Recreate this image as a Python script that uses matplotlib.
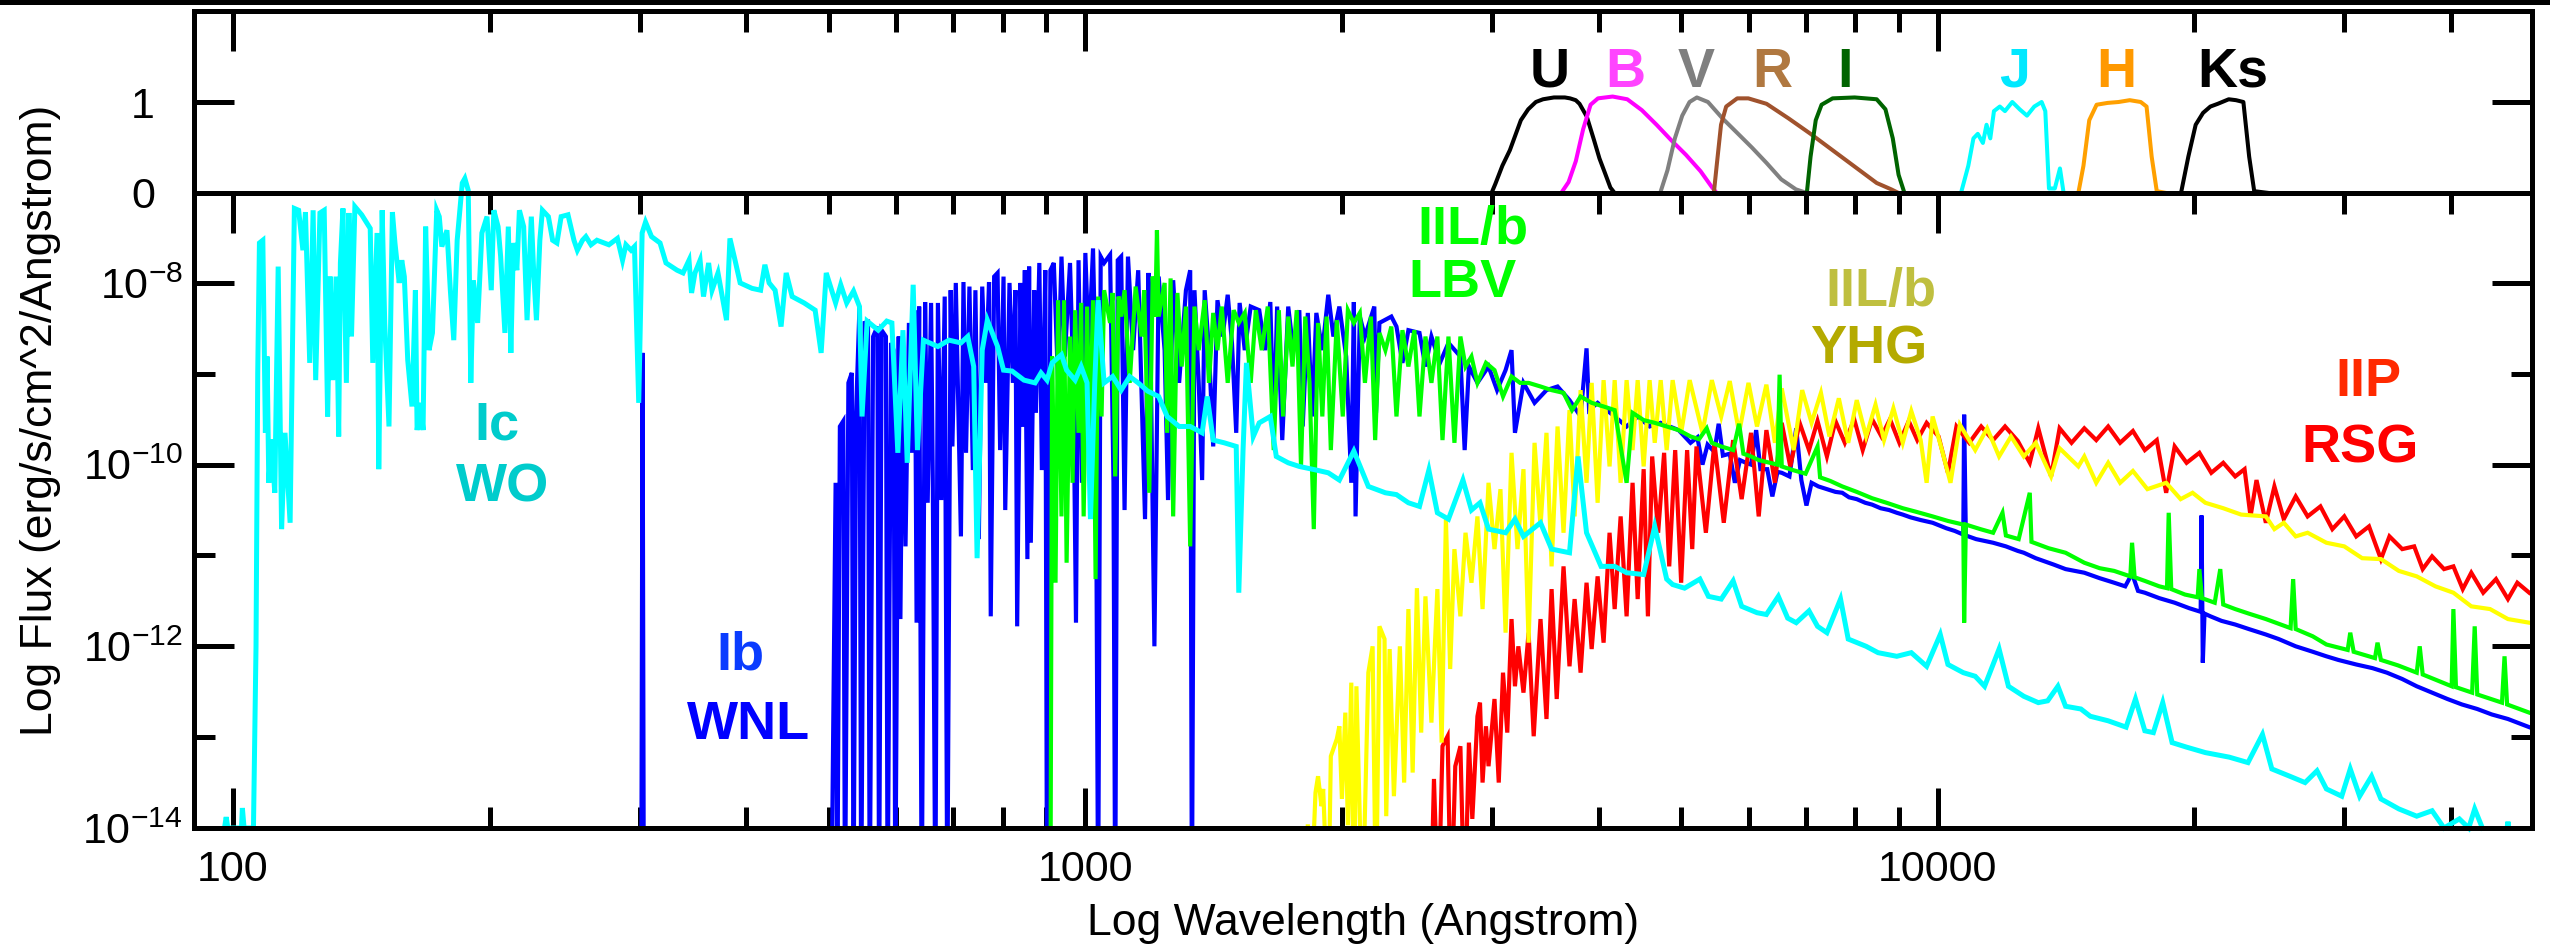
import numpy as np
import matplotlib
matplotlib.use('Agg')
import matplotlib.pyplot as plt
from matplotlib.patches import Rectangle
from matplotlib.ticker import FixedLocator, FixedFormatter, NullFormatter

plt.rcParams['font.family'] = ['Liberation Sans', 'DejaVu Sans']
plt.rcParams['mathtext.fontset'] = 'custom'
plt.rcParams['mathtext.rm'] = 'Liberation Sans'
plt.rcParams['mathtext.it'] = 'Liberation Sans:italic'
plt.rcParams['mathtext.bf'] = 'Liberation Sans:bold'

# ---- filter transmission curves (Angstrom, relative) ----
u_wl = [2996, 3027, 3085, 3148, 3243, 3308, 3377, 3443, 3546, 3652, 3704, 3761, 3800, 3875, 3952, 4010, 4070, 4130, 4178]
u_tr = [0, 0.1, 0.3, 0.47, 0.8, 0.92, 1.0, 1.03, 1.05, 1.05, 1.04, 1.02, 0.98, 0.84, 0.58, 0.38, 0.22, 0.06, 0]
b_wl = [3616, 3689, 3762, 3837, 3915, 3994, 4155, 4323, 4497, 4679, 4868, 5065, 5269, 5428, 5504]
b_tr = [0, 0.12, 0.35, 0.7, 0.97, 1.04, 1.06, 1.03, 0.91, 0.75, 0.58, 0.42, 0.24, 0.07, 0]
v_wl = [4725, 4819, 4916, 5015, 5115, 5217, 5376, 5591, 5818, 6053, 6298, 6553, 6818, 7022]
v_tr = [0, 0.25, 0.6, 0.85, 1.0, 1.05, 1.0, 0.82, 0.66, 0.5, 0.33, 0.15, 0.04, 0]
r_wl = [5462, 5504, 5569, 5647, 5818, 5995, 6298, 6683, 7093, 7528, 7990, 8480, 8821, 8997]
r_tr = [0, 0.3, 0.75, 0.95, 1.04, 1.04, 0.98, 0.82, 0.65, 0.47, 0.29, 0.11, 0.04, 0]
i_wl = [7022, 7093, 7193, 7307, 7528, 7990, 8480, 8683, 8857, 8997, 9141]
i_tr = [0, 0.4, 0.8, 0.97, 1.04, 1.05, 1.03, 0.92, 0.6, 0.2, 0]
j_wl = [10649, 10862, 11013, 11143, 11298, 11410, 11526, 11641, 11827, 11992, 12232, 12477,
        12727, 12981, 13241, 13373, 13506, 13722, 13913, 14052, 14191]
j_tr = [0, 0.3, 0.6, 0.65, 0.55, 0.75, 0.6, 0.9, 0.95, 0.9, 1.0, 0.92, 0.85, 0.95, 1.0, 0.9,
        0.05, 0.05, 0.27, 0, 0]
h_wl = [14621, 14825, 15059, 15361, 15824, 16301, 16799, 17306, 17580, 17824, 18072, 18545]
h_tr = [0, 0.3, 0.8, 0.97, 0.99, 1.0, 1.02, 1.0, 0.95, 0.4, 0.02, 0]
k_wl = [19295, 19681, 20075, 20477, 20887, 21309, 21950, 22387, 22836, 23195, 23514, 24470]
k_tr = [0, 0.4, 0.75, 0.88, 0.95, 0.98, 1.03, 1.02, 1.0, 0.4, 0.02, 0]

filter_names = ['U', 'B', 'V', 'R', 'I', 'J', 'H', 'Ks']
filter_label_wl = [3510, 4296, 5212, 6400, 7780, 12300, 16210, 22180]

# ---- spectra: (log10 wavelength [A], log10 flux [erg/s/cm^2/A]) ----
# WO star (type Ic progenitor)
wo_pts = [
    (1.990, -14.0), (1.992, -13.88), (1.994, -14.0), (2.010, -14.0), (2.011, -13.78), (2.013, -14.0),
    (2.024, -14.0), (2.027, -12.0), (2.029, -9.0),
    (2.031, -7.56), (2.035, -7.53), (2.038, -9.65), (2.040, -8.81), (2.042, -10.20), (2.045, -9.72),
    (2.049, -10.31), (2.053, -7.82), (2.057, -10.71), (2.061, -9.65), (2.067, -10.64), (2.072, -7.18),
    (2.077, -7.20), (2.082, -7.64), (2.085, -7.22), (2.090, -8.88), (2.094, -7.20), (2.097, -9.07),
    (2.102, -7.23), (2.107, -7.20), (2.111, -9.47), (2.114, -7.93), (2.117, -9.07), (2.121, -7.93),
    (2.124, -9.69), (2.126, -7.78), (2.129, -7.18), (2.133, -9.10), (2.136, -7.23), (2.139, -8.59),
    (2.143, -7.16), (2.151, -7.25), (2.161, -7.40), (2.164, -8.88), (2.169, -7.45), (2.171, -10.05),
    (2.175, -7.20), (2.178, -8.44), (2.183, -9.58), (2.187, -7.22), (2.190, -7.56), (2.195, -8.00),
    (2.198, -7.75), (2.201, -7.93), (2.205, -8.85), (2.210, -9.36), (2.214, -8.08), (2.216, -9.62),
    (2.220, -9.32), (2.223, -9.62), (2.226, -7.38), (2.230, -8.74), (2.234, -8.55), (2.239, -7.20),
    (2.242, -7.27), (2.245, -7.60), (2.251, -7.42), (2.255, -8.08), (2.259, -8.63), (2.263, -7.53),
    (2.269, -6.90), (2.272, -6.85), (2.276, -6.98), (2.279, -9.10), (2.282, -7.97), (2.287, -8.44),
    (2.292, -7.45), (2.298, -7.27), (2.303, -8.08), (2.306, -7.20), (2.311, -7.38), (2.314, -7.71),
    (2.319, -8.55), (2.323, -7.38), (2.326, -8.77), (2.329, -7.56), (2.333, -7.86), (2.336, -7.20),
    (2.341, -7.38), (2.345, -8.41), (2.350, -7.27), (2.353, -7.93), (2.356, -8.41), (2.360, -7.53),
    (2.363, -7.20), (2.370, -7.27), (2.375, -7.53), (2.380, -7.56), (2.385, -7.27), (2.393, -7.25),
    (2.400, -7.53), (2.404, -7.64), (2.410, -7.53), (2.414, -7.49), (2.420, -7.58), (2.427, -7.53),
    (2.441, -7.58), (2.451, -7.51), (2.457, -7.75), (2.461, -7.58), (2.467, -7.64), (2.471, -7.60),
    (2.476, -9.32), (2.480, -7.45), (2.484, -7.33), (2.491, -7.49), (2.501, -7.56), (2.508, -7.78),
    (2.521, -7.86), (2.528, -7.89), (2.535, -7.75), (2.538, -8.11), (2.542, -7.89), (2.548, -7.75),
    (2.552, -8.15), (2.558, -7.78), (2.562, -8.08), (2.569, -7.89), (2.579, -8.41), (2.583, -7.51),
    (2.589, -7.75), (2.595, -8.00), (2.609, -8.06), (2.619, -8.08), (2.624, -7.80), (2.629, -8.00),
    (2.636, -8.08), (2.643, -8.48), (2.649, -7.89), (2.656, -8.15), (2.670, -8.22), (2.683, -8.30),
    (2.690, -8.77), (2.696, -7.89), (2.707, -8.22), (2.713, -8.02), (2.720, -8.22), (2.728, -8.09),
    (2.735, -8.26), (2.738, -9.47), (2.744, -8.42), (2.757, -8.52), (2.767, -8.42),
    (2.773, -8.44), (2.780, -9.87), (2.786, -8.52), (2.791, -9.98), (2.798, -8.02), (2.803, -9.84),
    (2.810, -8.63), (2.827, -8.70), (2.840, -8.63), (2.854, -8.66), (2.862, -8.59), (2.869, -8.92),
    (2.873, -11.03), (2.879, -8.74), (2.885, -8.41), (2.897, -8.70), (2.904, -8.96), (2.914, -8.97),
    (2.928, -9.07), (2.941, -9.10), (2.948, -8.99), (2.955, -9.07), (2.961, -8.88), (2.972, -8.79),
    (2.978, -8.96), (2.988, -9.07), (2.995, -8.92), (3.002, -9.10), (3.006, -10.60), (3.011, -9.10),
    (3.015, -8.19), (3.022, -9.10), (3.032, -9.03), (3.042, -9.18), (3.052, -9.03), (3.062, -9.10),
    (3.073, -9.19), (3.086, -9.25), (3.096, -9.47), (3.110, -9.58), (3.123, -9.58), (3.137, -9.65),
    (3.143, -9.25), (3.150, -9.73), (3.163, -9.76), (3.177, -9.80), (3.180, -11.41), (3.185, -9.84),
    (3.189, -8.88), (3.197, -9.69), (3.204, -9.54), (3.217, -9.47), (3.224, -9.91), (3.238, -9.98),
    (3.251, -10.02), (3.271, -10.06), (3.285, -10.09), (3.298, -10.17), (3.315, -9.85), (3.332, -10.24),
    (3.352, -10.31), (3.365, -10.33), (3.379, -10.42), (3.392, -10.46), (3.403, -10.06), (3.413, -10.53),
    (3.426, -10.60), (3.443, -10.17), (3.453, -10.50), (3.463, -10.42), (3.473, -10.71), (3.493, -10.75),
    (3.504, -10.60), (3.514, -10.79), (3.534, -10.64), (3.547, -10.93), (3.568, -10.97), (3.578, -9.91),
    (3.588, -10.75), (3.605, -11.12), (3.621, -11.12), (3.635, -11.19), (3.655, -11.21), (3.668, -10.68),
    (3.682, -11.26), (3.689, -11.32), (3.703, -11.36), (3.721, -11.26), (3.731, -11.45), (3.746, -11.48),
    (3.760, -11.28), (3.770, -11.56), (3.788, -11.63), (3.799, -11.65), (3.813, -11.45), (3.824, -11.69),
    (3.834, -11.74), (3.849, -11.61), (3.859, -11.78), (3.870, -11.85), (3.886, -11.48), (3.895, -11.92),
    (3.916, -12.00), (3.930, -12.07), (3.952, -12.11), (3.969, -12.07), (3.987, -12.22), (4.003, -11.87),
    (4.012, -12.20), (4.030, -12.29), (4.044, -12.33), (4.055, -12.44), (4.072, -12.03), (4.083, -12.44),
    (4.101, -12.55), (4.118, -12.62), (4.129, -12.60), (4.141, -12.44), (4.150, -12.66), (4.168, -12.69),
    (4.179, -12.77), (4.200, -12.82), (4.221, -12.89), (4.232, -12.58), (4.243, -12.93), (4.253, -12.95),
    (4.264, -12.62), (4.275, -13.06), (4.292, -13.11), (4.314, -13.17), (4.342, -13.22), (4.364, -13.28),
    (4.381, -12.97), (4.392, -13.35), (4.413, -13.43), (4.431, -13.50), (4.445, -13.37), (4.456, -13.57),
    (4.474, -13.65), (4.484, -13.35), (4.495, -13.65), (4.509, -13.43), (4.520, -13.68), (4.541, -13.79),
    (4.562, -13.87), (4.580, -13.81), (4.594, -14.0), (4.612, -13.90), (4.623, -14.0), (4.630, -13.79),
    (4.639, -14.0), (4.650, np.nan), (4.668, -14.0), (4.669, -13.93), (4.670, -14.0),
]

# WNL star (type Ib progenitor)
wnl_pts = [
    (2.470, -15), (2.479, -15), (2.4805, -8.77), (2.482, -15), (2.700, -15),
    (2.702, -15), (2.707, -10.20), (2.709, -15), (2.712, -9.58), (2.716, -9.52), (2.718, -15),
    (2.722, -9.10), (2.726, -8.99), (2.728, -15), (2.731, -9.43), (2.735, -8.26), (2.737, -15),
    (2.741, -8.44), (2.745, -8.43), (2.747, -15), (2.751, -8.59), (2.756, -8.48), (2.758, -15),
    (2.761, -8.52), (2.766, -8.59), (2.768, -15), (2.772, -8.66), (2.775, -8.74), (2.777, -15),
    (2.781, -8.59), (2.783, -11.70), (2.786, -8.59), (2.789, -10.90), (2.793, -8.44), (2.796, -9.87),
    (2.800, -8.30), (2.802, -11.74), (2.805, -8.26), (2.808, -15), (2.812, -8.21), (2.815, -10.42),
    (2.819, -8.22), (2.821, -10.17), (2.824, -15), (2.827, -8.22), (2.831, -10.39), (2.835, -8.15),
    (2.838, -15), (2.842, -8.08), (2.844, -9.80), (2.848, -8.00), (2.854, -10.79), (2.857, -7.99),
    (2.860, -9.87), (2.864, -8.04), (2.868, -10.06), (2.871, -8.08), (2.875, -10.82), (2.879, -8.04),
    (2.883, -9.10), (2.887, -7.99), (2.889, -11.67), (2.893, -7.93), (2.897, -7.89), (2.900, -9.84),
    (2.904, -7.93), (2.906, -10.50), (2.911, -8.00), (2.915, -9.10), (2.918, -8.08), (2.920, -11.78),
    (2.924, -8.00), (2.926, -9.58), (2.929, -7.86), (2.932, -11.04), (2.934, -7.82), (2.936, -10.86),
    (2.940, -8.08), (2.942, -9.43), (2.946, -7.78), (2.949, -10.06), (2.953, -7.86), (2.955, -15),
    (2.959, -7.86), (2.963, -7.78), (2.968, -9.10), (2.972, -7.71), (2.976, -8.81), (2.982, -7.78),
    (2.986, -9.10), (2.989, -11.74), (2.992, -7.75), (2.996, -10.20), (3.000, -7.67), (3.004, -8.74),
    (3.009, -7.62), (3.012, -8.92), (3.015, -15), (3.018, -7.71), (3.022, -7.78), (3.029, -7.69),
    (3.033, -10.20), (3.035, -15), (3.038, -7.75), (3.042, -7.71), (3.046, -10.50), (3.050, -7.71),
    (3.056, -8.74), (3.062, -7.86), (3.070, -10.60), (3.074, -7.89), (3.077, -9.10), (3.081, -12.00),
    (3.086, -7.93), (3.093, -8.74), (3.097, -10.39), (3.103, -7.97), (3.110, -9.10), (3.118, -8.08),
    (3.123, -7.86), (3.125, -15), (3.128, -8.08), (3.133, -9.10), (3.137, -10.17), (3.140, -8.08),
    (3.145, -8.74), (3.150, -9.80), (3.155, -8.19), (3.161, -8.59), (3.167, -8.13), (3.172, -8.66),
    (3.177, -9.65), (3.181, -8.22), (3.187, -8.74), (3.194, -8.26), (3.204, -8.30), (3.211, -8.74),
    (3.217, -8.21), (3.221, -9.65), (3.225, -8.26), (3.231, -9.73), (3.238, -8.26), (3.244, -8.74),
    (3.251, -8.30), (3.255, -9.58), (3.261, -8.33), (3.266, -9.47), (3.271, -8.33), (3.278, -8.74),
    (3.285, -8.13), (3.291, -8.59), (3.298, -8.26), (3.306, -8.81), (3.312, -10.20), (3.315, -8.21),
    (3.317, -10.57), (3.322, -8.37), (3.328, -8.59), (3.339, -8.26), (3.341, -9.43), (3.345, -8.44),
    (3.359, -8.37), (3.365, -8.48), (3.372, -8.88), (3.379, -8.52), (3.392, -8.55), (3.399, -8.92),
    (3.406, -8.59), (3.416, -8.88), (3.426, -8.66), (3.440, -8.81), (3.445, -9.84), (3.450, -8.92),
    (3.460, -9.10), (3.473, -8.92), (3.483, -9.18), (3.493, -8.96), (3.500, -8.74), (3.504, -9.65),
    (3.514, -9.10), (3.527, -9.32), (3.541, -9.18), (3.554, -9.14), (3.568, -9.29), (3.581, -9.47),
    (3.588, -8.72), (3.591, -9.40), (3.601, -9.32), (3.621, -9.47), (3.635, -9.58), (3.648, -9.47),
    (3.662, -9.58), (3.675, -9.54), (3.696, -9.62),
    (3.710, -9.76), (3.718, -9.70), (3.724, -10.00), (3.730, -9.78), (3.738, -9.86), (3.743, -9.55),
    (3.748, -9.90), (3.756, -9.88), (3.762, -10.20), (3.768, -9.95), (3.775, -9.98), (3.781, -10.00),
    (3.787, -9.62), (3.792, -10.05), (3.800, -10.05), (3.806, -10.35), (3.812, -10.08), (3.817, -10.09),
    (3.826, -10.13), (3.834, -9.60), (3.840, -10.17), (3.846, -10.45), (3.852, -10.20), (3.860, -10.24),
    (3.870, -10.27), (3.880, -10.30), (3.888, -10.31), (3.896, -10.36), (3.905, -10.38), (3.915, -10.42),
    (3.923, -10.44), (3.933, -10.48), (3.943, -10.50), (3.952, -10.53), (3.959, -10.55), (3.968, -10.58),
    (3.980, -10.61), (3.994, -10.64), (4.010, -10.70), (4.020, -10.73), (4.030, -10.77), (4.031, -9.45),
    (4.033, -10.78), (4.045, -10.82), (4.065, -10.86), (4.080, -10.90), (4.094, -10.95), (4.101, -10.97),
    (4.115, -11.03), (4.136, -11.10), (4.150, -11.15), (4.172, -11.19), (4.190, -11.25), (4.207, -11.30),
    (4.220, -11.34), (4.228, -11.20), (4.235, -11.39), (4.243, -11.41), (4.260, -11.47), (4.278, -11.52),
    (4.295, -11.58), (4.3085, -11.62), (4.3095, -10.56), (4.311, -12.18), (4.313, -11.64), (4.320, -11.67),
    (4.333, -11.72), (4.349, -11.76), (4.365, -11.81), (4.385, -11.87), (4.400, -11.92), (4.420, -12.00),
    (4.440, -12.06), (4.456, -12.11), (4.470, -12.15), (4.491, -12.20), (4.510, -12.24), (4.527, -12.29),
    (4.545, -12.36), (4.562, -12.44), (4.580, -12.51), (4.598, -12.58), (4.615, -12.64), (4.633, -12.69),
    (4.650, -12.75), (4.669, -12.80), (4.694, -12.89),
]

# LBV (type IIL/b progenitor)
lbv_pts = [
    (2.959, -15), (2.961, -8.81), (2.965, -11.30), (2.968, -8.19), (2.972, -10.57), (2.975, -8.19),
    (2.978, -11.08), (2.982, -8.59), (2.985, -10.20), (2.988, -8.30), (2.992, -9.65), (2.995, -8.22),
    (2.998, -10.57), (3.002, -8.26), (3.005, -9.84), (3.009, -8.19), (3.012, -11.26), (3.015, -8.15),
    (3.019, -9.47), (3.022, -8.08), (3.029, -8.44), (3.032, -8.11), (3.035, -10.13), (3.039, -8.15),
    (3.042, -8.37), (3.046, -8.08), (3.052, -9.10), (3.059, -8.04), (3.066, -8.59), (3.069, -8.08),
    (3.075, -10.31), (3.079, -7.93), (3.082, -8.37), (3.084, -7.42), (3.086, -8.37), (3.093, -8.00),
    (3.096, -9.65), (3.100, -7.95), (3.103, -10.57), (3.108, -8.11), (3.113, -8.92), (3.118, -8.26),
    (3.123, -10.90), (3.128, -8.26), (3.133, -8.74), (3.140, -8.19), (3.145, -9.10), (3.150, -8.33),
    (3.155, -8.74), (3.160, -8.26), (3.167, -9.10), (3.174, -8.30), (3.180, -8.44), (3.187, -8.33),
    (3.194, -9.10), (3.200, -8.30), (3.207, -8.74), (3.214, -8.26), (3.221, -9.84), (3.227, -8.30),
    (3.232, -9.47), (3.238, -8.37), (3.243, -8.92), (3.248, -8.30), (3.253, -10.02), (3.258, -8.37),
    (3.263, -9.10), (3.268, -10.71), (3.273, -8.44), (3.278, -9.47), (3.283, -8.37), (3.288, -9.84),
    (3.295, -8.41), (3.302, -9.47), (3.308, -8.30), (3.315, -8.44), (3.322, -8.33), (3.328, -9.10),
    (3.335, -8.37), (3.340, -9.73), (3.345, -8.55), (3.352, -8.74), (3.359, -8.48), (3.365, -9.47),
    (3.372, -8.52), (3.379, -8.92), (3.386, -8.52), (3.392, -9.47), (3.399, -8.59), (3.406, -9.10),
    (3.413, -8.59), (3.419, -9.73), (3.426, -8.59), (3.433, -9.76), (3.440, -8.59), (3.446, -8.92),
    (3.453, -8.81), (3.460, -9.10), (3.470, -8.88), (3.480, -8.96), (3.490, -9.25), (3.500, -9.03),
    (3.510, -9.10), (3.520, -9.10), (3.534, -9.14), (3.547, -9.18), (3.561, -9.21), (3.571, -9.40),
    (3.581, -9.25), (3.594, -9.32), (3.608, -9.36), (3.621, -9.40), (3.635, -10.20), (3.642, -9.43),
    (3.655, -9.51), (3.668, -9.54), (3.682, -9.58), (3.696, -9.62),
    (3.710, -9.69), (3.720, -9.72), (3.729, -9.60), (3.735, -9.76), (3.746, -9.80), (3.760, -9.84),
    (3.767, -9.55), (3.772, -9.88), (3.781, -9.91), (3.790, -9.95), (3.812, -10.00), (3.8145, -9.01),
    (3.817, -10.02), (3.830, -10.06), (3.845, -10.10), (3.859, -9.80), (3.862, -10.14), (3.874, -10.18),
    (3.888, -10.24), (3.905, -10.30), (3.923, -10.37), (3.940, -10.42), (3.959, -10.48), (3.975, -10.52),
    (3.994, -10.57), (4.012, -10.62), (4.030, -10.66), (4.031, -11.74), (4.033, -10.66), (4.050, -10.71),
    (4.065, -10.75), (4.076, -10.53), (4.080, -10.78), (4.095, -10.82), (4.108, -10.31), (4.110, -10.85),
    (4.130, -10.92), (4.150, -10.97), (4.172, -11.08), (4.190, -11.14), (4.207, -11.17), (4.226, -11.23),
    (4.228, -10.86), (4.231, -11.24), (4.243, -11.28), (4.260, -11.34), (4.269, -11.36), (4.271, -10.53),
    (4.274, -11.37), (4.290, -11.43), (4.305, -11.46), (4.307, -11.15), (4.310, -11.47), (4.325, -11.52),
    (4.3315, -11.15), (4.335, -11.54), (4.349, -11.59), (4.365, -11.64), (4.385, -11.70), (4.414, -11.80),
    (4.417, -11.26), (4.420, -11.81), (4.440, -11.89), (4.456, -11.98), (4.481, -12.04), (4.484, -11.85),
    (4.488, -12.06), (4.513, -12.13), (4.516, -11.96), (4.520, -12.15), (4.540, -12.21), (4.562, -12.29),
    (4.5655, -12.00), (4.569, -12.31), (4.598, -12.42), (4.603, -12.44), (4.605, -11.59), (4.608, -12.45),
    (4.627, -12.51), (4.630, -11.78), (4.633, -12.53), (4.662, -12.62), (4.665, -12.11), (4.668, -12.64),
    (4.694, -12.73),
]

# YHG (type IIL/b progenitor)
yhg_pts = [
    (3.256, -15), (3.261, -13.96), (3.264, -15), (3.270, -13.61), (3.273, -13.43), (3.277, -13.76),
    (3.279, -13.57), (3.285, -15), (3.288, -13.21), (3.295, -13.02), (3.298, -12.88), (3.301, -13.68),
    (3.305, -12.73), (3.308, -13.97), (3.312, -12.40), (3.315, -15), (3.318, -12.44), (3.325, -15),
    (3.332, -12.29), (3.337, -12.00), (3.341, -15), (3.345, -11.78), (3.351, -11.92), (3.353, -13.87),
    (3.357, -12.03), (3.362, -13.65), (3.369, -12.00), (3.374, -13.50), (3.379, -11.59), (3.384, -13.39),
    (3.389, -11.36), (3.394, -12.95), (3.399, -11.45), (3.406, -12.84), (3.413, -11.37), (3.418, -13.06),
    (3.423, -10.60), (3.428, -12.25), (3.433, -10.93), (3.440, -11.67), (3.446, -10.75), (3.453, -11.30),
    (3.460, -10.57), (3.466, -11.59), (3.473, -10.20), (3.480, -10.93), (3.487, -10.27), (3.493, -11.85),
    (3.500, -9.87), (3.507, -10.93), (3.514, -10.05), (3.520, -11.96), (3.527, -9.76), (3.534, -10.68),
    (3.541, -9.65), (3.547, -11.12), (3.554, -9.58), (3.561, -10.75), (3.568, -9.40), (3.574, -10.57),
    (3.581, -9.18), (3.588, -10.20), (3.594, -9.10), (3.601, -10.42), (3.608, -9.07), (3.615, -10.02),
    (3.621, -9.07), (3.628, -10.20), (3.635, -9.07), (3.642, -9.84), (3.648, -9.07), (3.655, -10.02),
    (3.662, -9.07), (3.668, -9.76), (3.675, -9.07), (3.682, -9.84), (3.689, -9.07), (3.699, -9.65),
    (3.709, -9.07), (3.724, -9.65), (3.735, -9.07), (3.746, -9.47), (3.756, -9.08), (3.767, -9.65),
    (3.778, -9.10), (3.788, -9.58), (3.799, -9.12), (3.809, -9.76), (3.817, -9.16), (3.831, -9.84),
    (3.841, -9.18), (3.852, -9.54), (3.863, -9.21), (3.873, -9.69), (3.884, -9.27), (3.895, -9.76),
    (3.905, -9.29), (3.916, -9.69), (3.927, -9.34), (3.937, -9.73), (3.948, -9.38), (3.959, -9.76),
    (3.969, -9.41), (3.980, -9.73), (3.987, -10.20), (3.994, -9.47), (4.005, -9.84), (4.015, -10.20),
    (4.026, -9.56), (4.044, -9.84), (4.058, -9.60), (4.072, -9.91), (4.086, -9.69), (4.101, -9.91),
    (4.115, -9.76), (4.133, -10.13), (4.143, -9.82), (4.165, -10.02), (4.172, -9.91), (4.186, -10.20),
    (4.200, -9.98), (4.214, -10.20), (4.229, -10.07), (4.246, -10.27), (4.268, -10.20), (4.285, -10.38),
    (4.299, -10.31), (4.314, -10.42), (4.335, -10.48), (4.356, -10.55), (4.385, -10.57), (4.395, -10.71),
    (4.406, -10.64), (4.420, -10.79), (4.434, -10.75), (4.456, -10.86), (4.477, -10.90), (4.498, -11.03),
    (4.520, -11.04), (4.541, -11.17), (4.562, -11.23), (4.584, -11.34), (4.605, -11.41), (4.626, -11.56),
    (4.648, -11.59), (4.669, -11.70), (4.694, -11.74),
]

# RSG (type IIP progenitor)
rsg_pts = [
    (3.405, -15), (3.409, -13.46), (3.414, -15), (3.419, -13.10), (3.425, -12.99), (3.429, -15),
    (3.434, -13.32), (3.440, -13.10), (3.445, -15), (3.450, -13.06), (3.454, -13.90), (3.460, -12.77),
    (3.463, -12.62), (3.466, -13.50), (3.470, -12.88), (3.473, -13.32), (3.480, -12.58), (3.485, -13.50),
    (3.490, -12.29), (3.495, -12.95), (3.500, -11.70), (3.504, -12.44), (3.508, -12.00), (3.514, -12.51),
    (3.520, -11.85), (3.526, -12.99), (3.534, -11.70), (3.541, -12.80), (3.547, -11.37), (3.553, -12.58),
    (3.561, -11.12), (3.568, -12.22), (3.574, -11.48), (3.581, -12.29), (3.588, -11.30), (3.594, -12.03),
    (3.601, -11.23), (3.608, -11.96), (3.615, -10.75), (3.621, -11.59), (3.628, -10.57), (3.635, -11.67),
    (3.642, -10.20), (3.648, -11.48), (3.655, -10.05), (3.660, -11.67), (3.665, -9.91), (3.672, -10.75),
    (3.679, -9.87), (3.685, -11.12), (3.692, -9.84), (3.699, -11.30), (3.706, -9.84), (3.712, -10.93),
    (3.717, -9.80), (3.728, -10.75), (3.738, -9.76), (3.749, -10.64), (3.760, -9.73), (3.770, -10.38),
    (3.781, -9.65), (3.790, -10.57), (3.799, -9.62), (3.809, -10.20), (3.817, -9.54), (3.827, -10.02),
    (3.838, -9.54), (3.849, -9.84), (3.859, -9.52), (3.870, -9.91), (3.880, -9.52), (3.891, -9.76),
    (3.902, -9.50), (3.912, -9.84), (3.923, -9.50), (3.934, -9.69), (3.944, -9.50), (3.955, -9.76),
    (3.966, -9.52), (3.976, -9.73), (3.987, -9.54), (4.001, -9.69), (4.012, -10.09), (4.022, -9.58),
    (4.037, -9.76), (4.051, -9.58), (4.065, -9.73), (4.079, -9.58), (4.094, -9.74), (4.108, -9.98),
    (4.118, -9.60), (4.133, -10.13), (4.143, -9.60), (4.157, -9.76), (4.172, -9.60), (4.186, -9.73),
    (4.200, -9.58), (4.214, -9.76), (4.229, -9.63), (4.243, -9.84), (4.257, -9.73), (4.268, -10.31),
    (4.278, -9.80), (4.292, -9.98), (4.307, -9.87), (4.321, -10.09), (4.335, -9.98), (4.349, -10.13),
    (4.360, -10.05), (4.367, -10.57), (4.374, -10.17), (4.385, -10.64), (4.395, -10.24), (4.406, -10.60),
    (4.420, -10.35), (4.434, -10.57), (4.449, -10.46), (4.463, -10.71), (4.477, -10.57), (4.491, -10.79),
    (4.506, -10.68), (4.520, -11.04), (4.530, -10.79), (4.545, -10.93), (4.559, -10.90), (4.569, -11.15),
    (4.580, -11.01), (4.594, -11.15), (4.605, -11.12), (4.616, -11.37), (4.626, -11.19), (4.640, -11.41),
    (4.655, -11.26), (4.669, -11.48), (4.680, -11.30), (4.694, -11.41),
]

# ---- figure ----
W, H = 2550, 949
fig = plt.figure(figsize=(W / 100, H / 100), dpi=100)
left, right = 194 / W, 2532 / W
ax_top = fig.add_axes([left, 1 - 193 / H, right - left, (193 - 11) / H])
ax = fig.add_axes([left, 1 - 828 / H, right - left, (828 - 193) / H])

fig.add_artist(Rectangle((0, 1 - 5 / H), 1, 5 / H, transform=fig.transFigure,
                         facecolor='black', edgecolor='none'))

# filters
filters = [(u_wl, u_tr, 'black'), (b_wl, b_tr, '#FF00FF'), (v_wl, v_tr, '#808080'),
           (r_wl, r_tr, '#A0522D'), (i_wl, i_tr, '#006400'), (j_wl, j_tr, '#00FFFF'),
           (h_wl, h_tr, '#FFA000'), (k_wl, k_tr, 'black')]
for wl, tr, c in filters:
    ax_top.plot(wl, tr, color=c, lw=2.9)
label_colors = ['black', '#FF44FF', '#7F7F7F', '#B07840', '#006400', '#00E8FF', '#FF9900', 'black']
for name, x, c in zip(filter_names, filter_label_wl, label_colors):
    ax_top.text(x, 1.17, name, ha='center', va='baseline', fontsize=40, fontweight='bold',
                color=c, family=['Liberation Sans Narrow', 'Liberation Sans'])

# spectra
def draw(pts, color, lw, clip=True):
    arr = np.array(pts, dtype=float)
    ax.plot(10 ** arr[:, 0], 10 ** arr[:, 1], color=color, lw=lw, clip_on=clip,
            solid_joinstyle='miter')

draw(wnl_pts, '#0000FF', 3.0)
draw(rsg_pts, '#FF0000', 3.0)
draw(yhg_pts, '#FFFF00', 3.0)
draw(lbv_pts, '#00FF00', 3.0)
draw(wo_pts, '#00FFFF', 3.6, clip=False)

# labels on the spectra
labels = [
    ('Ic', 204, -9.725, '#00CCCC'), ('WO', 207, -10.41, '#00CCCC'),
    ('Ib', 394, -12.25, '#0A3CFF'), ('WNL', 403, -13.02, '#0000FF'),
    ('IIL/b', 2848, -7.57, '#00FF00'), ('LBV', 2773, -8.15, '#00FF00'),
    ('IIL/b', 8570, -8.25, '#BFBF3F'), ('YHG', 8300, -8.89, '#B4AA00'),
    ('IIP', 32030, -9.24, '#FF2A00'), ('RSG', 31260, -9.98, '#FF0000'),
]
for txt, x, ly, c in labels:
    ax.text(x, 10 ** ly, txt, ha='center', va='baseline', fontsize=39, fontweight='bold', color=c)

# axes styling
xmin, xmax = 90, 49800
for a in (ax_top, ax):
    a.set_xscale('log')
    a.set_xlim(xmin, xmax)
    for s in a.spines.values():
        s.set_linewidth(3.6)
    a.xaxis.set_major_locator(FixedLocator([100, 1000, 10000]))
    a.xaxis.set_minor_locator(FixedLocator([200, 300, 400, 500, 600, 700, 800, 900,
                                            2000, 3000, 4000, 5000, 6000, 7000, 8000, 9000,
                                            20000, 30000, 40000]))
    a.xaxis.set_minor_formatter(NullFormatter())

ax.set_yscale('log')
ax.set_ylim(1e-14, 10 ** -7.01)
ax.yaxis.set_major_locator(FixedLocator([1e-14, 1e-12, 1e-10, 1e-8]))
ax.yaxis.set_major_formatter(FixedFormatter(['$10^{-14}$', '$10^{-12}$', '$10^{-10}$', '$10^{-8}$']))
ax.yaxis.set_minor_locator(FixedLocator([1e-13, 1e-11, 1e-9, 1e-7]))
ax.yaxis.set_minor_formatter(NullFormatter())
ax.xaxis.set_major_formatter(FixedFormatter(['100', '1000', '10000']))
ax.tick_params(which='both', direction='in', top=True, right=True, width=3.6)
ax.tick_params(which='major', length=29)
ax.tick_params(which='minor', length=15)
ax.tick_params(axis='x', which='major', labelsize=31, pad=16)
ax.tick_params(axis='y', which='major', labelsize=31, pad=8)

ax_top.set_ylim(0, 2.0)
ax_top.set_yticks([0, 1])
ax_top.set_yticklabels(['0', '1'])
ax_top.tick_params(which='both', direction='in', top=True, bottom=False, labelbottom=False,
                   left=True, right=True, width=3.6)
ax_top.tick_params(which='major', length=29)
ax_top.tick_params(which='minor', length=15)
ax_top.tick_params(axis='y', labelsize=31, pad=28)

fig.text(1363 / W, 1 - 935 / H, 'Log Wavelength (Angstrom)', ha='center', va='baseline', fontsize=32)
fig.text(52 / W, 1 - 420 / H, 'Log Flux (erg/s/cm^2/Angstrom)', ha='center', va='baseline',
         rotation=90, rotation_mode='anchor', fontsize=32)

fig.savefig('out.png', dpi=100)
